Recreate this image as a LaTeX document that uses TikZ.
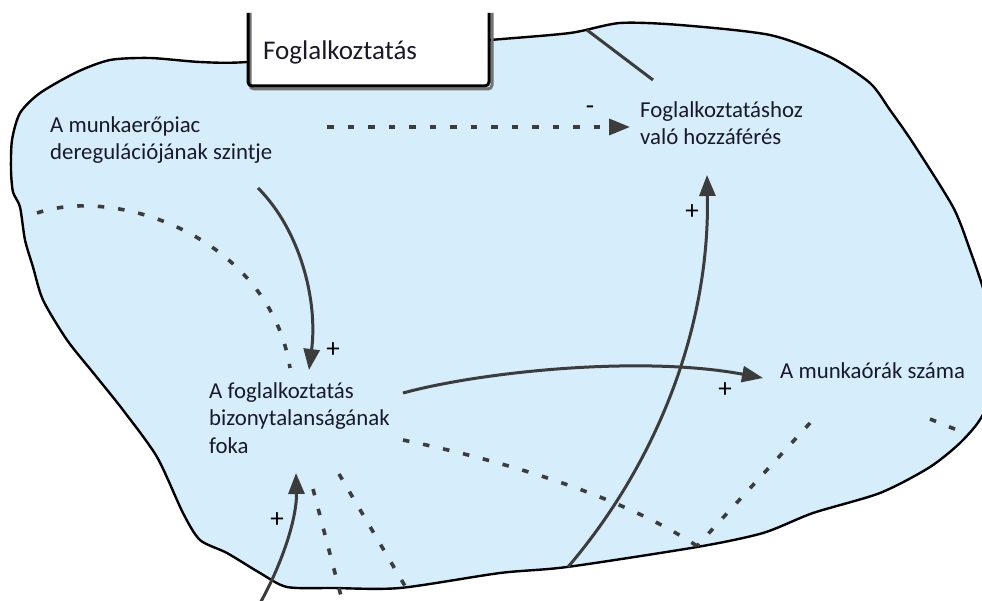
\documentclass[tikz,border=0pt]{standalone}
\usepackage{fontspec}
\setmainfont{Carlito}
\usetikzlibrary{arrows.meta}
\definecolor{blobfill}{RGB}{214,237,252}
\definecolor{lnk}{RGB}{60,60,60}
\definecolor{txt}{RGB}{25,25,40}
\begin{document}
\begin{tikzpicture}[x=1pt,y=-1pt,
  lbl/.style={font=\fontsize{22.8}{27.5}\selectfont, text=txt, inner sep=0pt, align=left, anchor=base west},
  pol/.style={font=\fontsize{27}{28}\selectfont, text=black, inner sep=0pt},
  link/.style={draw=lnk, line width=3pt},
  dotlink/.style={draw=lnk, line width=3.6pt, dash pattern=on 6.5pt off 14pt},
  head/.style={-{Triangle[length=21pt,width=16pt]}},
]
\useasboundingbox (0,0) rectangle (982,601);
\clip (0,0) rectangle (982,601);
\fill[white] (0,0) rectangle (982,601);
% blob
\draw[line width=2.4pt, fill=blobfill] plot[smooth cycle, tension=0.45] coordinates {
 (247,62) (200,62) (150,58) (110,60) (77,72) (40,93) (20,113) (12,140) (11,170) (13,192)
 (20,207) (25,240) (33,267) (43,300) (67,340) (95,375) (123,410) (157,457) (183,513)
 (200,540) (227,553) (260,573) (287,587) (333,588) (400,588) (500,573) (567,567)
 (697,547) (763,533) (813,513) (880,493) (930,467) (963,440) (985,410) (996,350)
 (985,295) (970,250) (953,207) (913,143) (890,110) (870,83) (830,57) (770,35)
 (680,25) (620,23) (570,33) (490,40) (370,50)};
% title box
\fill[white] (247,13) rectangle (490,87);
\draw[line width=3pt, black!55, rounded corners=4pt] (250,13) -- (250,89) -- (492,89) -- (492,13);
\draw[line width=3pt, rounded corners=4pt] (248,13) -- (248,86) -- (489,86) -- (489,13);
\node[font=\fontsize{27}{30}\selectfont, text=txt, anchor=base west, inner sep=0pt] (title) at (263,60) {Foglalkoztatás};
% labels (anchor = baseline of last line)
\node[lbl] (dereg) at (50,160) {A munkaerőpiac\\deregulációjának szintje};
\node[lbl] (access) at (640,145) {Foglalkoztatáshoz\\való hozzáférés};
\node[lbl] (insec) at (209,453) {A foglalkoztatás\\bizonytalanságának\\foka};
\node[lbl] (hours) at (780,378) {A munkaórák száma};
% coordinates
\coordinate (d1) at (327,127); \coordinate (a1) at (630,127);
\coordinate (t1) at (587,30); \coordinate (t2) at (653,80);
\coordinate (d2) at (258,188); \coordinate (i1) at (309,370);
\coordinate (i2) at (403,393); \coordinate (h1) at (763,378);
\coordinate (b1) at (568,567); \coordinate (a2) at (707,175);
\coordinate (b2) at (255,612); \coordinate (i3) at (296,473);
\coordinate (l1) at (37,213); \coordinate (i4) at (290,368);
\coordinate (i5) at (403,440); \coordinate (b3) at (697,546);
\coordinate (h2) at (810,423);
\coordinate (r1) at (930,419); \coordinate (r2) at (962,432);
\coordinate (i6) at (313,489); \coordinate (b4) at (341,596);
\coordinate (i7) at (339,474); \coordinate (b5) at (405,586);
% connectors
\draw[dotlink, head] (d1) -- (a1);
\draw[link] (t1) -- (t2);
\draw[link, head] (d2) .. controls (300,230) and (318,300) .. (i1);
\draw[link, head] (i2) .. controls (480,372) and (640,355) .. (h1);
\draw[link, head] (b1) .. controls (655,465) and (710,330) .. (a2);
\draw[link, head] (b2) .. controls (280,570) and (297,520) .. (i3);
\draw[dotlink] (l1) .. controls (120,185) and (270,240) .. (i4);
\draw[dotlink] (i5) .. controls (500,460) and (620,495) .. (b3);
\draw[dotlink] (h2) -- (b3);
\draw[dotlink] (r1) -- (r2);
\draw[dotlink] (i6) -- (b4);
\draw[dotlink] (i7) -- (b5);
% polarity signs
\node[pol] (m1) at (590,110) {-};
\node[pol] (p1) at (333,350) {+};
\node[pol] (p2) at (725,390) {+};
\node[pol] (p3) at (692,212) {+};
\node[pol] (p4) at (277,520) {+};
\end{tikzpicture}
\end{document}
